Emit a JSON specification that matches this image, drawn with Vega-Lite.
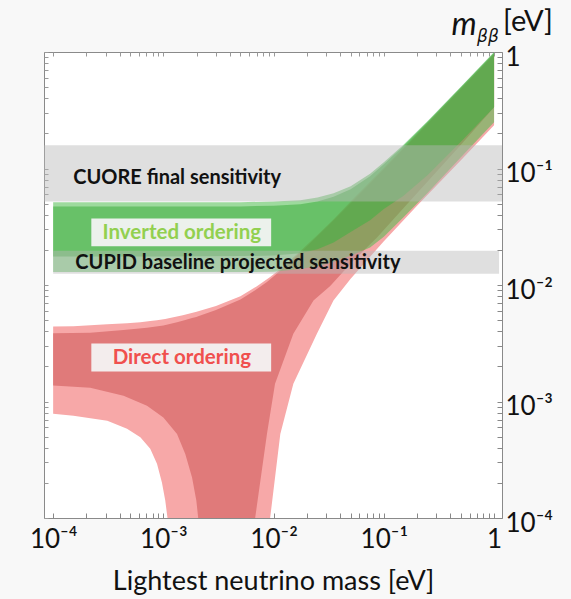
{
  "$schema": "https://vega.github.io/schema/vega-lite/v6.json",
  "autosize": "none",
  "width": 458,
  "height": 466,
  "padding": {"left": 44, "top": 52, "right": 69, "bottom": 81},
  "background": "#f8f8f8",
  "config": {
    "view": {"stroke": "#8a8a8a", "strokeWidth": 1, "fill": "white"},
    "font": "Lato"
  },
  "resolve": {"axis": {"x": "independent", "y": "independent"}},
  "datasets": {
    "bands": [
      {"s": "NO3", "m": 0.0001, "lo": 0.000785, "hi": 0.0044},
      {"s": "NO3", "m": 0.000153, "lo": 0.000756, "hi": 0.00443},
      {"s": "NO3", "m": 0.00031, "lo": 0.000685, "hi": 0.0046},
      {"s": "NO3", "m": 0.000468, "lo": 0.000585, "hi": 0.0047},
      {"s": "NO3", "m": 0.000618, "lo": 0.000493, "hi": 0.0048},
      {"s": "NO3", "m": 0.00076, "lo": 0.000394, "hi": 0.0049},
      {"s": "NO3", "m": 0.000875, "lo": 0.000292, "hi": 0.00497},
      {"s": "NO3", "m": 0.00097, "lo": 0.000202, "hi": 0.00505},
      {"s": "NO3", "m": 0.00104, "lo": 0.000141, "hi": 0.0051},
      {"s": "NO3", "m": 0.00109, "lo": 0.0001, "hi": 0.00515},
      {"s": "NO3", "m": 0.0015, "lo": 0.0001, "hi": 0.0055},
      {"s": "NO3", "m": 0.002, "lo": 0.0001, "hi": 0.0059},
      {"s": "NO3", "m": 0.003, "lo": 0.0001, "hi": 0.0066},
      {"s": "NO3", "m": 0.005, "lo": 0.0001, "hi": 0.008},
      {"s": "NO3", "m": 0.007, "lo": 0.0001, "hi": 0.0097},
      {"s": "NO3", "m": 0.0093, "lo": 0.0001, "hi": 0.0117},
      {"s": "NO3", "m": 0.0115, "lo": 0.000527, "hi": 0.0137},
      {"s": "NO3", "m": 0.0151, "lo": 0.00142, "hi": 0.0172},
      {"s": "NO3", "m": 0.0247, "lo": 0.00381, "hi": 0.0266},
      {"s": "NO3", "m": 0.0349, "lo": 0.00736, "hi": 0.0365},
      {"s": "NO3", "m": 0.05, "lo": 0.0113, "hi": 0.052},
      {"s": "NO3", "m": 0.1, "lo": 0.0238, "hi": 0.101},
      {"s": "NO3", "m": 0.2, "lo": 0.048, "hi": 0.199},
      {"s": "NO3", "m": 0.5, "lo": 0.118, "hi": 0.49},
      {"s": "NO3", "m": 1, "lo": 0.235, "hi": 0.97},

      {"s": "NO1", "m": 0.0001, "lo": 0.00137, "hi": 0.00385},
      {"s": "NO1", "m": 0.000217, "lo": 0.00131, "hi": 0.0039},
      {"s": "NO1", "m": 0.000435, "lo": 0.00112, "hi": 0.0041},
      {"s": "NO1", "m": 0.00071, "lo": 0.00092, "hi": 0.0043},
      {"s": "NO1", "m": 0.001, "lo": 0.00073, "hi": 0.0045},
      {"s": "NO1", "m": 0.00133, "lo": 0.000527, "hi": 0.0048},
      {"s": "NO1", "m": 0.00158, "lo": 0.000355, "hi": 0.005},
      {"s": "NO1", "m": 0.00182, "lo": 0.000223, "hi": 0.0052},
      {"s": "NO1", "m": 0.00199, "lo": 0.000141, "hi": 0.0053},
      {"s": "NO1", "m": 0.00207, "lo": 0.0001, "hi": 0.0054},
      {"s": "NO1", "m": 0.003, "lo": 0.0001, "hi": 0.0061},
      {"s": "NO1", "m": 0.005, "lo": 0.0001, "hi": 0.0075},
      {"s": "NO1", "m": 0.0068, "lo": 0.0001, "hi": 0.009},
      {"s": "NO1", "m": 0.0087, "lo": 0.000527, "hi": 0.0106},
      {"s": "NO1", "m": 0.0103, "lo": 0.00142, "hi": 0.0121},
      {"s": "NO1", "m": 0.0151, "lo": 0.00381, "hi": 0.0166},
      {"s": "NO1", "m": 0.023, "lo": 0.00736, "hi": 0.0243},
      {"s": "NO1", "m": 0.0326, "lo": 0.0098, "hi": 0.0335},
      {"s": "NO1", "m": 0.053, "lo": 0.0162, "hi": 0.053},
      {"s": "NO1", "m": 0.0863, "lo": 0.0255, "hi": 0.085},
      {"s": "NO1", "m": 0.174, "lo": 0.053, "hi": 0.17},
      {"s": "NO1", "m": 0.5, "lo": 0.16, "hi": 0.48},
      {"s": "NO1", "m": 1, "lo": 0.335, "hi": 0.95},

      {"s": "IO3", "m": 0.0001, "lo": 0.0129, "hi": 0.0513},
      {"s": "IO3", "m": 0.001, "lo": 0.0129, "hi": 0.0513},
      {"s": "IO3", "m": 0.005, "lo": 0.0129, "hi": 0.0514},
      {"s": "IO3", "m": 0.01, "lo": 0.013, "hi": 0.0521},
      {"s": "IO3", "m": 0.0175, "lo": 0.0137, "hi": 0.0535},
      {"s": "IO3", "m": 0.025, "lo": 0.0145, "hi": 0.0563},
      {"s": "IO3", "m": 0.035, "lo": 0.0158, "hi": 0.0612},
      {"s": "IO3", "m": 0.05, "lo": 0.0178, "hi": 0.0705},
      {"s": "IO3", "m": 0.075, "lo": 0.021, "hi": 0.09},
      {"s": "IO3", "m": 0.1, "lo": 0.026, "hi": 0.113},
      {"s": "IO3", "m": 0.15, "lo": 0.038, "hi": 0.159},
      {"s": "IO3", "m": 0.25, "lo": 0.062, "hi": 0.256},
      {"s": "IO3", "m": 0.5, "lo": 0.125, "hi": 0.503},
      {"s": "IO3", "m": 1, "lo": 0.25, "hi": 1.0},

      {"s": "IO1", "m": 0.0001, "lo": 0.0176, "hi": 0.0472},
      {"s": "IO1", "m": 0.001, "lo": 0.0176, "hi": 0.0472},
      {"s": "IO1", "m": 0.005, "lo": 0.0177, "hi": 0.0473},
      {"s": "IO1", "m": 0.01, "lo": 0.0179, "hi": 0.048},
      {"s": "IO1", "m": 0.0175, "lo": 0.0187, "hi": 0.0494},
      {"s": "IO1", "m": 0.025, "lo": 0.0203, "hi": 0.0522},
      {"s": "IO1", "m": 0.035, "lo": 0.0232, "hi": 0.0572},
      {"s": "IO1", "m": 0.05, "lo": 0.0285, "hi": 0.0665},
      {"s": "IO1", "m": 0.075, "lo": 0.036, "hi": 0.086},
      {"s": "IO1", "m": 0.1, "lo": 0.045, "hi": 0.109},
      {"s": "IO1", "m": 0.15, "lo": 0.058, "hi": 0.155},
      {"s": "IO1", "m": 0.25, "lo": 0.088, "hi": 0.252},
      {"s": "IO1", "m": 0.5, "lo": 0.17, "hi": 0.498},
      {"s": "IO1", "m": 1, "lo": 0.335, "hi": 0.985}
    ],
    "sens": [
      {"name": "CUORE final sensitivity", "x1": 0.0000826, "x2": 1.18, "lo": 0.052, "hi": 0.158},
      {"name": "CUPID baseline projected sensitivity", "x1": 0.0001, "x2": 1.11, "lo": 0.0125, "hi": 0.0197}
    ],
    "boxes": [
      {"name": "Inverted ordering", "x1": 0.000222, "x2": 0.0095, "y1": 0.0215, "y2": 0.0373},
      {"name": "Direct ordering", "x1": 0.000222, "x2": 0.0095, "y1": 0.00181, "y2": 0.00315}
    ],
    "labels": [
      {"text": "CUORE final sensitivity", "x": 0.000152, "y": 0.0835, "kind": "sens"},
      {"text": "CUPID baseline projected sensitivity", "x": 0.000159, "y": 0.0153, "kind": "sens"},
      {"text": "Inverted ordering", "x": 0.00147, "y": 0.0277, "kind": "IO"},
      {"text": "Direct ordering", "x": 0.00147, "y": 0.00238, "kind": "NO"}
    ],
    "unit": [
      {"part": "m", "m": 1, "v": 1},
      {"part": "bb", "m": 1, "v": 1},
      {"part": "eV", "m": 1, "v": 1}
    ]
  },
  "layer": [
    {
      "data": {"name": "bands"},
      "transform": [{"filter": "datum.s == 'NO3'"}],
      "mark": {"type": "area", "color": "#f7a8a8", "opacity": 1, "clip": true},
      "encoding": {
        "x": {
          "field": "m", "type": "quantitative",
          "scale": {"type": "log", "domain": [0.0000826, 1.18], "nice": false},
          "axis": {
            "orient": "bottom",
            "values": [0.0001,0.0002,0.0003,0.0004,0.0005,0.0006,0.0007,0.0008,0.0009,0.001,0.002,0.003,0.004,0.005,0.006,0.007,0.008,0.009,0.01,0.02,0.03,0.04,0.05,0.06,0.07,0.08,0.09,0.1,0.2,0.3,0.4,0.5,0.6,0.7,0.8,0.9,1],
            "labelExpr": "datum.value == 0.0001 ? '10⁻⁴' : datum.value == 0.001 ? '10⁻³' : datum.value == 0.01 ? '10⁻²' : datum.value == 0.1 ? '10⁻¹' : datum.value == 1 ? '1' : ''",
            "labelFontSize": 26, "labelFont": "Lato", "labelColor": "#111",
            "labelPadding": 13, "labelFlush": false, "labelOverlap": false,
            "tickSize": -5, "tickColor": "#888", "domain": false, "grid": false,
            "title": "Lightest neutrino mass [eV]",
            "titleFontSize": 27, "titleFont": "Lato", "titleFontWeight": "normal", "titleColor": "#111",
            "titlePadding": 16
          }
        },
        "y": {
          "field": "lo", "type": "quantitative",
          "scale": {"type": "log", "domain": [0.0001, 1], "nice": false},
          "axis": {
            "orient": "right",
            "values": [0.0001,0.0002,0.0003,0.0004,0.0005,0.0006,0.0007,0.0008,0.0009,0.001,0.002,0.003,0.004,0.005,0.006,0.007,0.008,0.009,0.01,0.02,0.03,0.04,0.05,0.06,0.07,0.08,0.09,0.1,0.2,0.3,0.4,0.5,0.6,0.7,0.8,0.9,1],
            "labelExpr": "datum.value == 0.0001 ? '10⁻⁴' : datum.value == 0.001 ? '10⁻³' : datum.value == 0.01 ? '10⁻²' : datum.value == 0.1 ? '10⁻¹' : datum.value == 1 ? '1' : ''",
            "labelFontSize": 26, "labelFont": "Lato", "labelColor": "#111",
            "labelPadding": 8, "labelOffset": 5, "labelOverlap": false, "labelFlush": false,
            "tickSize": -5, "tickColor": "#888", "domain": false, "grid": false,
            "title": null
          }
        },
        "y2": {"field": "hi"}
      }
    },
    {
      "data": {"name": "bands"},
      "transform": [{"filter": "datum.s == 'NO1'"}],
      "mark": {"type": "area", "color": "#e07a7a", "opacity": 1, "clip": true},
      "encoding": {
        "x": {
          "field": "m", "type": "quantitative",
          "axis": {
            "orient": "top",
            "values": [0.0001,0.0002,0.0003,0.0004,0.0005,0.0006,0.0007,0.0008,0.0009,0.001,0.002,0.003,0.004,0.005,0.006,0.007,0.008,0.009,0.01,0.02,0.03,0.04,0.05,0.06,0.07,0.08,0.09,0.1,0.2,0.3,0.4,0.5,0.6,0.7,0.8,0.9,1],
            "labels": false, "tickSize": -4, "tickColor": "#999", "domain": false, "grid": false, "title": null
          }
        },
        "y": {
          "field": "lo", "type": "quantitative",
          "axis": {
            "orient": "left",
            "values": [0.0001,0.0002,0.0003,0.0004,0.0005,0.0006,0.0007,0.0008,0.0009,0.001,0.002,0.003,0.004,0.005,0.006,0.007,0.008,0.009,0.01,0.02,0.03,0.04,0.05,0.06,0.07,0.08,0.09,0.1,0.2,0.3,0.4,0.5,0.6,0.7,0.8,0.9,1],
            "labels": false, "tickSize": -4, "tickColor": "#999", "domain": false, "grid": false, "title": null
          }
        },
        "y2": {"field": "hi"}
      }
    },
    {
      "data": {"name": "bands"},
      "transform": [{"filter": "datum.s == 'IO3'"}],
      "mark": {"type": "area", "color": "#4cbb4c", "opacity": 0.55, "clip": true},
      "encoding": {
        "x": {"field": "m", "type": "quantitative", "axis": null},
        "y": {"field": "lo", "type": "quantitative", "axis": null},
        "y2": {"field": "hi"}
      }
    },
    {
      "data": {"name": "bands"},
      "transform": [{"filter": "datum.s == 'IO1'"}],
      "mark": {"type": "area", "color": "#44b044", "opacity": 0.6, "clip": true},
      "encoding": {
        "x": {"field": "m", "type": "quantitative", "axis": null},
        "y": {"field": "lo", "type": "quantitative", "axis": null},
        "y2": {"field": "hi"}
      }
    },
    {
      "data": {"name": "sens"},
      "mark": {"type": "rect", "color": "#b8b8b8", "opacity": 0.45, "clip": true},
      "encoding": {
        "x": {"field": "x1", "type": "quantitative", "axis": null},
        "x2": {"field": "x2"},
        "y": {"field": "lo", "type": "quantitative", "axis": null},
        "y2": {"field": "hi"}
      }
    },
    {
      "data": {"name": "boxes"},
      "mark": {"type": "rect", "color": "#f3f3f3", "opacity": 0.95},
      "encoding": {
        "x": {"field": "x1", "type": "quantitative", "axis": null},
        "x2": {"field": "x2"},
        "y": {"field": "y1", "type": "quantitative", "axis": null},
        "y2": {"field": "y2"}
      }
    },
    {
      "data": {"name": "labels"},
      "transform": [{"filter": "datum.kind == 'sens'"}],
      "mark": {"type": "text", "align": "left", "baseline": "middle", "fontSize": 20, "fontWeight": "bold", "font": "Lato", "color": "#111"},
      "encoding": {
        "x": {"field": "x", "type": "quantitative", "axis": null},
        "y": {"field": "y", "type": "quantitative", "axis": null},
        "text": {"field": "text"}
      }
    },
    {
      "data": {"name": "labels"},
      "transform": [{"filter": "datum.kind != 'sens'"}],
      "mark": {"type": "text", "align": "center", "baseline": "middle", "fontSize": 20.5, "fontWeight": "bold", "font": "Lato"},
      "encoding": {
        "x": {"field": "x", "type": "quantitative", "axis": null},
        "y": {"field": "y", "type": "quantitative", "axis": null},
        "text": {"field": "text"},
        "color": {
          "field": "kind", "type": "nominal",
          "scale": {"domain": ["IO", "NO"], "range": ["#92d050", "#f0504e"]},
          "legend": null
        }
      }
    },
    {
      "data": {"name": "unit"},
      "transform": [{"filter": "datum.part == 'm'"}],
      "mark": {"type": "text", "text": "m", "align": "center", "baseline": "alphabetic", "fontSize": 32, "fontStyle": "italic", "font": "Lato", "color": "#111", "dx": -30, "dy": -17},
      "encoding": {
        "x": {"field": "m", "type": "quantitative", "axis": null},
        "y": {"field": "v", "type": "quantitative", "axis": null}
      }
    },
    {
      "data": {"name": "unit"},
      "transform": [{"filter": "datum.part == 'bb'"}],
      "mark": {"type": "text", "text": "ββ", "align": "left", "baseline": "alphabetic", "fontSize": 17, "fontStyle": "italic", "font": "DejaVu Sans", "color": "#111", "dx": -17, "dy": -10},
      "encoding": {
        "x": {"field": "m", "type": "quantitative", "axis": null},
        "y": {"field": "v", "type": "quantitative", "axis": null}
      }
    },
    {
      "data": {"name": "unit"},
      "transform": [{"filter": "datum.part == 'eV'"}],
      "mark": {"type": "text", "text": "[eV]", "align": "left", "baseline": "alphabetic", "fontSize": 29, "font": "Lato", "color": "#111", "dx": 9, "dy": -21},
      "encoding": {
        "x": {"field": "m", "type": "quantitative", "axis": null},
        "y": {"field": "v", "type": "quantitative", "axis": null}
      }
    }
  ]
}
